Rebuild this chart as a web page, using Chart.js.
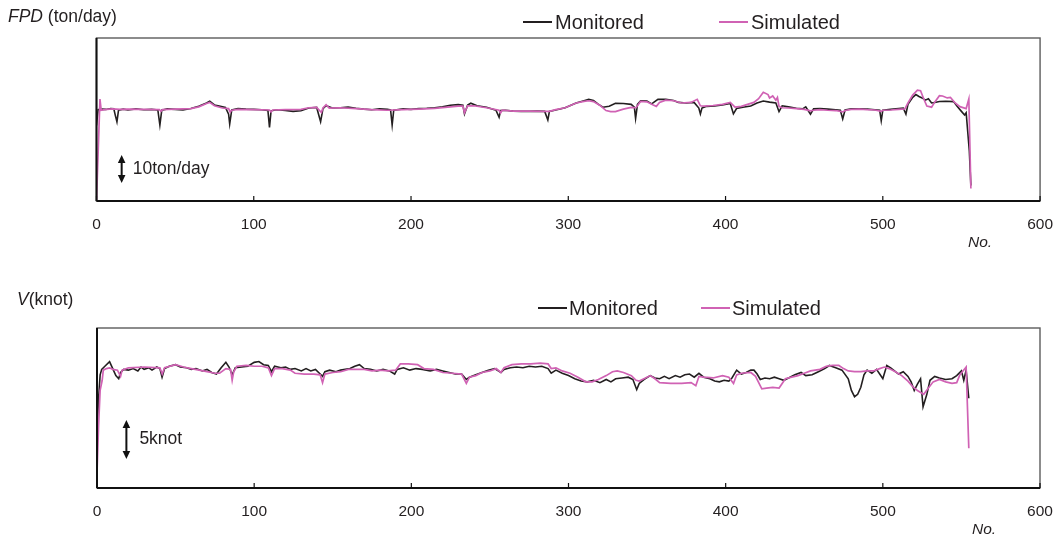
<!DOCTYPE html>
<html>
<head>
<meta charset="utf-8">
<script src="https://cdn.jsdelivr.net/npm/chart.js@4/dist/chart.umd.min.js"></script>
<style>
	body { margin: 0; background: #fff; width: 1059px; height: 538px; position: relative; overflow: hidden; font-family: "Liberation Sans", Arial, sans-serif; color: #231f20; }
	.painel { position: absolute; left: 0; width: 1059px; }
	.texto { position: absolute; white-space: nowrap; line-height: 1; }
	.traco { position: absolute; height: 1.6px; width: 29px; }
</style>
</head>
<body>

<div class="painel" style="top:0;height:270px"><canvas id="chartFPD" width="1059" height="270"></canvas></div>
<div class="painel" style="top:270px;height:268px"><canvas id="chartV" width="1059" height="268"></canvas></div>

<div class="texto" style="left:8px;top:8px;font-size:17.5px"><i>FPD</i> (ton/day)</div>
<div class="traco" style="left:523px;top:21px;background:#231f20"></div>
<div class="texto" style="left:555px;top:12px;font-size:20px">Monitored</div>
<div class="traco" style="left:719px;top:21px;background:#d062b4"></div>
<div class="texto" style="left:751px;top:12px;font-size:20px">Simulated</div>
<div class="texto" style="left:968px;top:234px;font-size:15.5px"><i>No.</i></div>

<div class="texto" style="left:17px;top:291px;font-size:17.5px"><i>V</i>(knot)</div>
<div class="traco" style="left:538px;top:307px;background:#231f20"></div>
<div class="texto" style="left:569px;top:298px;font-size:20px">Monitored</div>
<div class="traco" style="left:701px;top:307px;background:#d062b4"></div>
<div class="texto" style="left:732px;top:298px;font-size:20px">Simulated</div>
<div class="texto" style="left:972px;top:521px;font-size:15.5px"><i>No.</i></div>

<script>
// eixo X compartilhado
const ticksNo = [0, 100, 200, 300, 400, 500, 600];

// FPD (ton/day) - monitorado
const fpdMonNo = [0, 1, 3, 6, 9, 11, 12, 13, 14, 17, 20, 25, 30, 35, 39, 40.3, 41.5, 45, 50, 55, 60, 65, 70, 72, 75, 78, 82, 84, 84.7, 86, 90, 95, 100, 105, 109, 110, 111, 115, 120, 125, 130, 135, 140, 142.5, 144, 146, 150, 155, 160, 165, 170, 175, 180, 185, 187, 188, 189, 195, 200, 205, 210, 215, 220, 225, 230, 233, 234, 236, 238, 242, 248, 254, 256, 257, 260, 265, 270, 275, 280, 285, 287, 288, 292, 298, 305, 310, 313, 316, 319, 322, 326, 330, 335, 340, 342, 342.8, 344, 346, 350, 353, 357, 362, 367, 370, 375, 380, 383, 384, 385, 388, 393, 398, 403, 405, 407, 411, 416, 420, 424, 428, 432, 434, 436, 440, 445, 449, 451, 454, 456, 460, 465, 470, 473, 474.5, 476, 480, 485, 490, 495, 498, 499, 500, 505, 510, 513, 514.7, 516, 519, 521, 523, 525, 527, 529, 531, 533, 536, 540, 545, 547, 550, 552, 553, 555, 556];
const fpdMonVal = [27.0, 32.6, 32.8, 32.7, 33.0, 32.9, 30.5, 28.3, 32.4, 32.8, 32.5, 32.9, 32.6, 32.7, 32.5, 27.1, 32.4, 32.9, 32.7, 32.5, 33.0, 33.8, 35.0, 35.6, 34.3, 33.9, 33.4, 31.0, 27.5, 32.5, 33.0, 32.8, 32.7, 32.6, 32.3, 26.3, 32.2, 32.6, 32.3, 32.0, 32.2, 33.2, 33.4, 28.3, 33.0, 34.0, 33.2, 33.3, 33.5, 33.1, 32.8, 32.6, 32.9, 32.7, 32.5, 27.1, 32.4, 32.9, 32.7, 33.0, 33.1, 33.3, 33.6, 34.2, 34.4, 34.2, 31.1, 34.3, 34.9, 34.0, 33.5, 32.4, 29.9, 32.3, 32.4, 32.1, 32.0, 32.0, 32.1, 32.0, 28.9, 32.0, 32.5, 33.3, 35.0, 35.8, 36.3, 35.9, 34.6, 33.5, 33.8, 34.9, 34.8, 34.5, 33.5, 29.5, 34.5, 35.8, 35.7, 34.7, 36.3, 36.3, 35.9, 35.2, 35.0, 35.2, 33.2, 31.1, 33.2, 33.8, 33.9, 34.3, 34.8, 31.1, 33.0, 33.5, 33.9, 35.0, 35.7, 35.3, 35.0, 31.9, 34.0, 33.6, 33.1, 32.9, 33.6, 31.0, 32.9, 33.0, 32.8, 32.6, 32.4, 29.3, 32.5, 32.9, 32.9, 32.8, 32.6, 32.4, 28.6, 32.4, 32.7, 33.0, 33.2, 31.0, 34.5, 37.0, 38.0, 37.3, 36.8, 36.0, 36.5, 35.0, 35.2, 35.5, 35.6, 35.5, 34.0, 32.0, 30.7, 31.5, 18.0, 5.5];

// FPD (ton/day) - simulado
const fpdSimNo = [0, 2.2, 3, 5, 10, 15, 20, 30, 40, 41, 42, 50, 60, 65, 70, 72, 75, 80, 84, 85, 86, 90, 100, 110, 111, 112, 120, 130, 135, 140, 143, 144, 146, 148, 155, 165, 175, 185, 195, 205, 215, 225, 230, 233, 234, 236, 240, 248, 256, 257, 258, 265, 275, 285, 288, 292, 298, 305, 310, 313, 316, 320, 324, 327, 330, 335, 340, 343, 344, 346, 350, 354, 356, 358, 362, 367, 372, 378, 382, 384, 386, 392, 398, 403, 406, 410, 414, 418, 421, 424, 427, 428, 430, 432, 433, 434, 436, 440, 445, 450, 454, 456, 460, 465, 470, 474.5, 476, 480, 485, 490, 495, 499, 500, 505, 510, 514, 516, 519, 522, 524, 526, 528, 531, 533, 536, 538, 541, 543, 546, 549, 553, 554.7, 556];
const fpdSimVal = [0, 36.4, 32.4, 32.6, 32.9, 32.7, 32.8, 32.7, 32.6, 32.0, 32.6, 32.8, 33.0, 33.6, 34.8, 35.2, 34.0, 33.2, 33.0, 31.8, 32.4, 32.7, 32.6, 32.5, 31.8, 32.5, 32.6, 32.7, 33.3, 33.4, 31.6, 33.2, 34.4, 33.2, 33.3, 33.0, 32.6, 32.4, 32.6, 32.8, 33.1, 33.6, 33.9, 33.9, 31.5, 34.0, 34.0, 33.3, 32.4, 31.5, 32.4, 32.1, 32.1, 32.0, 32.0, 32.6, 33.3, 35.0, 35.6, 35.8, 35.5, 34.2, 32.3, 31.9, 31.9, 32.8, 33.4, 33.3, 34.0, 35.6, 35.4, 34.3, 33.8, 35.2, 36.0, 35.8, 35.0, 35.2, 36.3, 34.0, 33.9, 34.1, 34.5, 35.2, 33.5, 33.8, 34.5, 35.2, 36.5, 38.8, 38.0, 36.8, 37.5, 36.0, 37.0, 33.8, 33.3, 33.2, 33.0, 32.7, 32.2, 32.4, 32.6, 32.4, 32.3, 31.8, 32.3, 32.7, 32.8, 32.6, 32.5, 32.0, 32.4, 32.5, 32.7, 32.9, 35.0, 37.8, 39.6, 39.4, 36.5, 33.9, 33.5, 35.3, 37.6, 37.5, 36.8, 37.0, 35.0, 33.7, 33.0, 36.4, 4.5];

// V (knot) - monitorado
const vMonNo = [0, 1, 2, 3, 5, 8, 10, 12, 13.8, 15, 17, 20, 23, 26, 28, 30, 33, 35, 38, 40, 41.4, 43, 46, 50, 53, 57, 60, 63, 67, 70, 73, 76, 79, 82, 84, 86, 88, 92, 96, 100, 103, 106, 109, 111, 113, 117, 120, 123, 126, 130, 133, 136, 139, 142, 143.5, 145, 148, 152, 155, 158, 161, 164, 167, 170, 174, 178, 182, 186, 189.4, 191, 195, 199, 203, 207, 212, 216, 220, 224, 228, 232, 235, 237, 241, 245, 249, 253, 257, 259, 263, 267, 271, 275, 279, 283, 287, 289, 292, 296, 300, 304, 308, 312, 316, 320, 324, 327, 330, 334, 338, 341, 343.4, 345, 348, 352, 355, 358, 361, 364, 368, 371, 374, 377, 380, 383, 386, 390, 393, 396, 399, 402, 404, 407, 410, 413, 416, 418, 420, 422, 425, 428, 431, 434, 437, 440, 444, 448, 451, 455, 459, 463, 466, 470, 474, 478, 480, 482, 484, 486, 488, 490, 493, 496, 498, 500, 502.5, 505, 508, 510, 513, 516, 518, 520, 522, 524, 525.6, 528, 530, 533, 536, 540, 544, 547, 550, 551.5, 553, 554.7];
const vMonVal = [6.8, 11.5, 14.5, 15.2, 15.6, 16.2, 15.3, 14.4, 14.0, 14.8, 15.2, 15.1, 15.3, 15.0, 15.5, 15.2, 15.4, 15.1, 15.5, 15.3, 14.2, 15.3, 15.6, 15.8, 15.5, 15.4, 15.2, 15.3, 15.0, 15.2, 14.8, 14.6, 15.4, 16.1, 15.5, 14.5, 15.4, 15.5, 15.6, 16.1, 16.2, 15.8, 15.7, 14.9, 15.6, 15.4, 15.5, 15.2, 15.3, 15.0, 15.3, 15.0, 15.2, 14.6, 14.3, 14.9, 15.1, 14.9, 15.1, 15.2, 15.3, 15.6, 15.8, 15.3, 15.2, 15.0, 15.2, 15.0, 14.6, 15.2, 15.4, 15.1, 15.3, 15.2, 15.0, 15.2, 15.0, 14.8, 14.6, 14.6, 13.9, 14.2, 14.5, 14.8, 15.1, 15.3, 14.8, 15.2, 15.4, 15.5, 15.4, 15.6, 15.5, 15.6, 15.3, 14.7, 15.1, 14.7, 14.4, 14.0, 13.7, 13.6, 13.8, 13.5, 13.9, 13.6, 14.0, 14.1, 14.2, 13.9, 12.6, 13.4, 13.9, 14.4, 14.1, 14.0, 14.3, 14.0, 14.4, 14.2, 14.5, 14.6, 14.2, 14.7, 14.2, 14.0, 13.7, 13.6, 13.8, 13.7, 14.1, 15.1, 14.6, 14.8, 15.1, 15.1, 14.6, 13.9, 14.1, 14.0, 14.2, 14.0, 13.8, 14.1, 14.5, 14.8, 14.4, 14.5, 14.9, 15.3, 15.7, 15.4, 15.1, 14.0, 12.5, 11.7, 12.0, 12.9, 14.5, 15.1, 14.7, 15.2, 14.6, 14.0, 15.7, 15.4, 14.9, 14.6, 14.9, 14.3, 13.6, 12.5, 13.3, 14.0, 10.4, 12.0, 13.8, 14.3, 14.1, 13.9, 14.0, 14.4, 15.0, 13.8, 15.1, 11.5];

// V (knot) - simulado
const vSimNo = [0, 1, 2, 3.3, 4, 6, 8, 10, 13, 15, 16, 20, 30, 40, 41.5, 43, 50, 55, 60, 65, 70, 75, 78, 82, 85, 86, 87, 89, 95, 100, 105, 109, 111, 113, 118, 123, 126, 132, 138, 142, 143.5, 145, 150, 155, 160, 165, 170, 175, 180, 185, 190, 193, 198, 204, 208, 214, 220, 226, 232, 235, 237, 241, 245, 250, 254, 257, 259, 264, 270, 276, 282, 287, 289, 292, 296, 301, 306, 311, 315, 319, 324, 328, 331, 335, 340, 343, 345, 348, 352, 355, 358, 365, 372, 378, 381, 383, 386, 392, 398, 402, 405, 407, 410, 416, 419, 423, 426, 430, 434, 438, 442, 446, 450, 454, 457, 460, 464, 468, 472, 475, 478, 482, 486, 490, 494, 498, 501, 504, 508, 512, 516, 519, 522, 526, 529, 532, 536, 540, 544, 547, 549, 551, 553, 554.7];
const vSimVal = [1.9, 8.0, 12.5, 13.8, 15.1, 15.3, 15.4, 15.2, 15.1, 14.3, 15.1, 15.4, 15.5, 15.4, 14.6, 15.4, 15.8, 15.5, 15.3, 15.1, 14.9, 14.7, 14.7, 15.3, 15.2, 13.8, 14.9, 15.6, 15.7, 15.6, 15.6, 15.4, 14.4, 15.3, 15.3, 15.1, 14.7, 14.6, 14.6, 14.5, 13.5, 14.6, 14.8, 14.9, 15.2, 15.2, 15.2, 15.0, 15.1, 15.0, 15.1, 15.9, 15.9, 15.8, 15.3, 15.2, 14.8, 14.7, 14.6, 13.4, 14.2, 14.4, 14.8, 15.0, 15.3, 14.8, 15.4, 15.8, 15.9, 15.9, 16.0, 15.9, 15.3, 15.4, 15.0, 14.7, 14.2, 13.6, 13.6, 13.9, 14.4, 14.9, 15.0, 14.8, 14.4, 13.8, 13.7, 14.0, 14.4, 14.0, 13.5, 13.4, 13.4, 13.5, 13.1, 14.3, 14.2, 14.1, 14.4, 14.2, 13.4, 14.5, 14.7, 14.8, 14.3, 12.7, 12.8, 12.9, 12.8, 14.0, 14.2, 14.4, 14.7, 15.0, 15.1, 15.2, 15.6, 15.7, 15.7, 15.3, 15.0, 14.9, 14.9, 15.0, 15.0, 15.3, 15.5, 15.3, 14.9, 14.4, 13.7, 13.0, 12.5, 12.0, 12.8, 13.6, 13.9, 13.6, 13.4, 13.5, 14.5, 15.0, 15.5, 5.1];

const corMonitorado = "#231f20";
const corSimulado = "#d062b4";

// desenha a moldura, os ticks para dentro e a barra de escala
const moldura = {
	id: "moldura",
	afterDatasetsDraw(chart, args, opts) {
		const { ctx, chartArea: a, scales } = chart;
		ctx.save();

		ctx.strokeStyle = "#5c5c5c";
		ctx.lineWidth = 1.4;
		ctx.strokeRect(a.left, a.top, a.right - a.left, a.bottom - a.top);

		ctx.strokeStyle = "#111";
		ctx.lineWidth = 2;
		ctx.beginPath();
		ctx.moveTo(a.left, a.bottom);
		ctx.lineTo(a.right, a.bottom);
		ctx.moveTo(a.left, a.bottom);
		ctx.lineTo(a.left, a.top);
		ctx.stroke();

		ctx.lineWidth = 1.2;
		ctx.beginPath();
		scales.x.ticks.forEach((t) => {
			const px = scales.x.getPixelForValue(t.value);
			ctx.moveTo(px, a.bottom);
			ctx.lineTo(px, a.bottom - 5);
		});
		ctx.stroke();

		// barra de escala
		const b = opts.barra;
		const bx = scales.x.getPixelForValue(b.no);
		const yBase = scales.y.getPixelForValue(b.de);
		const yTopo = scales.y.getPixelForValue(b.de + b.span);
		ctx.fillStyle = "#111";
		ctx.strokeStyle = "#111";
		ctx.lineWidth = 2;
		ctx.beginPath();
		ctx.moveTo(bx, yTopo + 6);
		ctx.lineTo(bx, yBase - 6);
		ctx.stroke();
		ctx.beginPath();
		ctx.moveTo(bx, yTopo);
		ctx.lineTo(bx - 3.8, yTopo + 8);
		ctx.lineTo(bx + 3.8, yTopo + 8);
		ctx.closePath();
		ctx.moveTo(bx, yBase);
		ctx.lineTo(bx - 3.8, yBase - 8);
		ctx.lineTo(bx + 3.8, yBase - 8);
		ctx.closePath();
		ctx.fill();

		ctx.fillStyle = "#231f20";
		ctx.font = "17.5px 'Liberation Sans', Arial, sans-serif";
		ctx.textBaseline = "middle";
		ctx.fillText(b.texto, bx + b.dx, (yBase + yTopo) / 2);

		ctx.restore();
	},
};

function pares(xs, ys) {
	return xs.map((x, i) => ({ x: x, y: ys[i] }));
}

function criarGrafico(id, monNo, monVal, simNo, simVal, yMax, padding, barra) {
	const config = {
		type: "line",
		data: {
			datasets: [
				{
					label: "Simulated",
					data: pares(simNo, simVal),
					borderColor: corSimulado,
					borderWidth: 1.7,
					pointRadius: 0,
					tension: 0,
				},
				{
					label: "Monitored",
					data: pares(monNo, monVal),
					borderColor: corMonitorado,
					borderWidth: 1.6,
					pointRadius: 0,
					tension: 0,
				},
			],
		},
		options: {
			responsive: false,
			animation: false,
			events: [],
			layout: { padding: padding },
			plugins: {
				legend: { display: false },
				tooltip: { enabled: false },
				moldura: { barra: barra },
			},
			scales: {
				x: {
					type: "linear",
					min: ticksNo[0],
					max: ticksNo[ticksNo.length - 1],
					afterBuildTicks: (s) => {
						s.ticks = ticksNo.map((v) => ({ value: v }));
					},
					afterFit: (s) => {
						s.height = 45;
					},
					grid: { display: false },
					border: { display: false },
					ticks: {
						color: "#231f20",
						padding: 6,
						maxRotation: 0,
						autoSkip: false,
						font: { family: "'Liberation Sans', Arial, sans-serif", size: 15.5 },
					},
				},
				y: {
					display: false,
					min: 0,
					max: yMax,
				},
			},
		},
		plugins: [moldura],
	};

	return new Chart(document.getElementById(id), config);
}

criarGrafico("chartFPD", fpdMonNo, fpdMonVal, fpdSimNo, fpdSimVal, 58.2,
	{ left: 96.5, right: 17, top: 38, bottom: 24 },
	{ no: 16, de: 6.4, span: 10, texto: "10ton/day", dx: 11 });

criarGrafico("chartV", vMonNo, vMonVal, vSimNo, vSimVal, 20.5,
	{ left: 97, right: 19, top: 58, bottom: 5 },
	{ no: 18.7, de: 3.7, span: 5, texto: "5knot", dx: 13 });
</script>
</body>
</html>
